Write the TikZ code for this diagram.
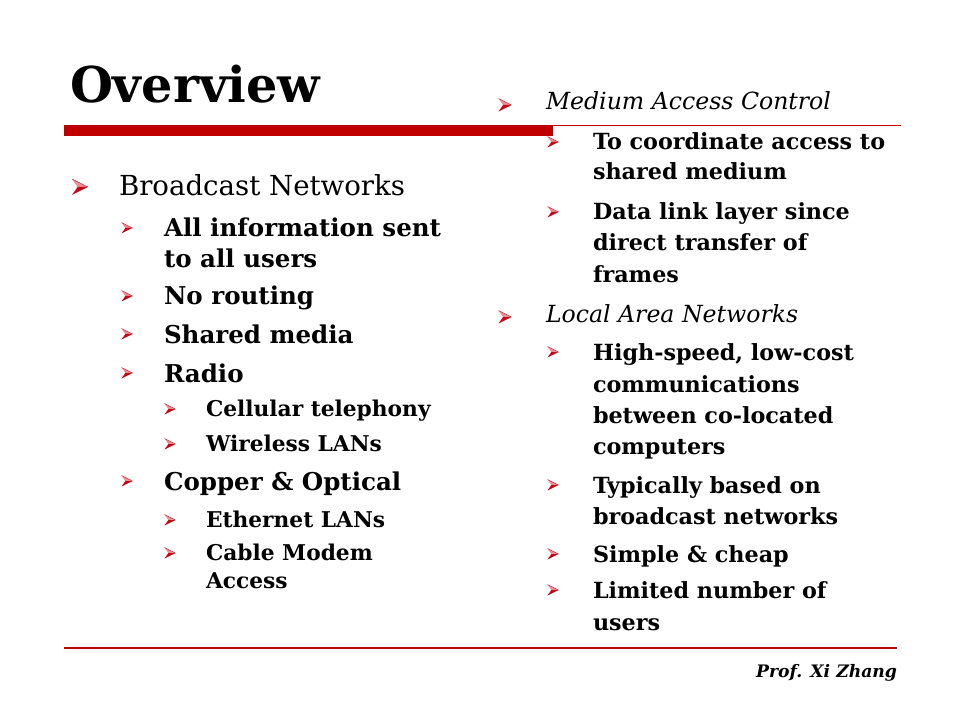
\documentclass[tikz,border=0pt]{standalone}
\usepackage{fontspec}
\setmainfont{DejaVu Serif}
\usepackage{tikz}
\usetikzlibrary{positioning}

\definecolor{slidered}{RGB}{192,0,0}
\definecolor{bulletlight}{RGB}{238,140,148}
\definecolor{bulletdark}{RGB}{196,8,24}

\begin{document}
\begin{tikzpicture}[x=0.75pt,y=-0.75pt,
			every node/.style = {inner sep=0pt, outer sep=0pt, anchor=base west},
			titletext/.style = {font=\fontsize{37}{44}\selectfont\bfseries},
			lvone/.style = {font=\fontsize{20.7}{25}\selectfont},
			lvtwo/.style = {font=\fontsize{18.4}{22}\selectfont\bfseries},
			lvthree/.style = {font=\fontsize{16.3}{19}\selectfont\bfseries},
			rtone/.style = {font=\fontsize{17.7}{21}\selectfont\itshape},
			rttwo/.style = {font=\fontsize{16.7}{20}\selectfont\bfseries},
			signature/.style = {font=\fontsize{12.9}{15}\selectfont\bfseries\itshape, anchor=base east},
			bul/.pic = {\fill[bulletlight] (0.5,0) -- (-0.5,-0.5) -- (-0.15,0) -- cycle;
				\fill[bulletdark] (0.5,0) -- (-0.15,0) -- (-0.5,0.5) -- cycle;
				\draw[bulletdark, line width=0.3pt] (0.5,0) -- (-0.5,-0.5);}]
			\useasboundingbox (0,0) rectangle (960,720);
			% title and rules
			\node[titletext] (title) at (70,103) {Overview};
			\fill[slidered] (64,125) rectangle (553,136);
			\draw[slidered, line width=0.9pt] (553,125.5) -- (901,125.5);
			\draw[slidered, line width=0.9pt] (64,648) -- (897,648);
			% left column
			\node[lvone] (broadcast) at (119,196) {Broadcast Networks};
			\pic[scale=16] at (80,187) {bul};
			\foreach \y/\t [count=\k] in {237/All information sent, 268/to all users, 305/No routing,
				343/Shared media, 382/Radio, 490/Copper \& Optical}
			{\node[lvtwo] (lefttwo\k) at (164,\y) {\t};}
			\foreach \y in {237,305,343,382,490} {\pic[scale=11] at (127,\y-9) {bul};}
			\foreach \y/\t [count=\k] in {416/Cellular telephony, 451/Wireless LANs, 527/Ethernet LANs,
				560/Cable Modem, 588/Access}
			{\node[lvthree] (leftthree\k) at (206,\y) {\t};}
			\foreach \y in {416,451,527,560} {\pic[scale=11] at (170,\y-7) {bul};}
			% right column
			\node[rtone] (mac) at (546,110) {Medium Access Control};
			\node[rtone] (lan) at (546,322) {Local Area Networks};
			\foreach \y in {110,322} {\pic[scale=13] at (505,\y-5) {bul};}
			\foreach \y/\t [count=\k] in {150/To coordinate access to, 180/shared medium,
				220/Data link layer since, 251/direct transfer of, 282/frames,
				360/{High-speed, low-cost}, 392/communications, 423/between co-located, 454/computers,
				493/Typically based on, 524/broadcast networks, 562/Simple \& cheap,
				598/Limited number of, 630/users}
			{\node[rttwo] (righttwo\k) at (593,\y) {\t};}
			\foreach \y in {150,220,360,493,562,598} {\pic[scale=11] at (553,\y-8) {bul};}
			% footer
			\node[signature] (prof) at (897,677) {Prof. Xi Zhang};
			\end{tikzpicture}
\end{document}
